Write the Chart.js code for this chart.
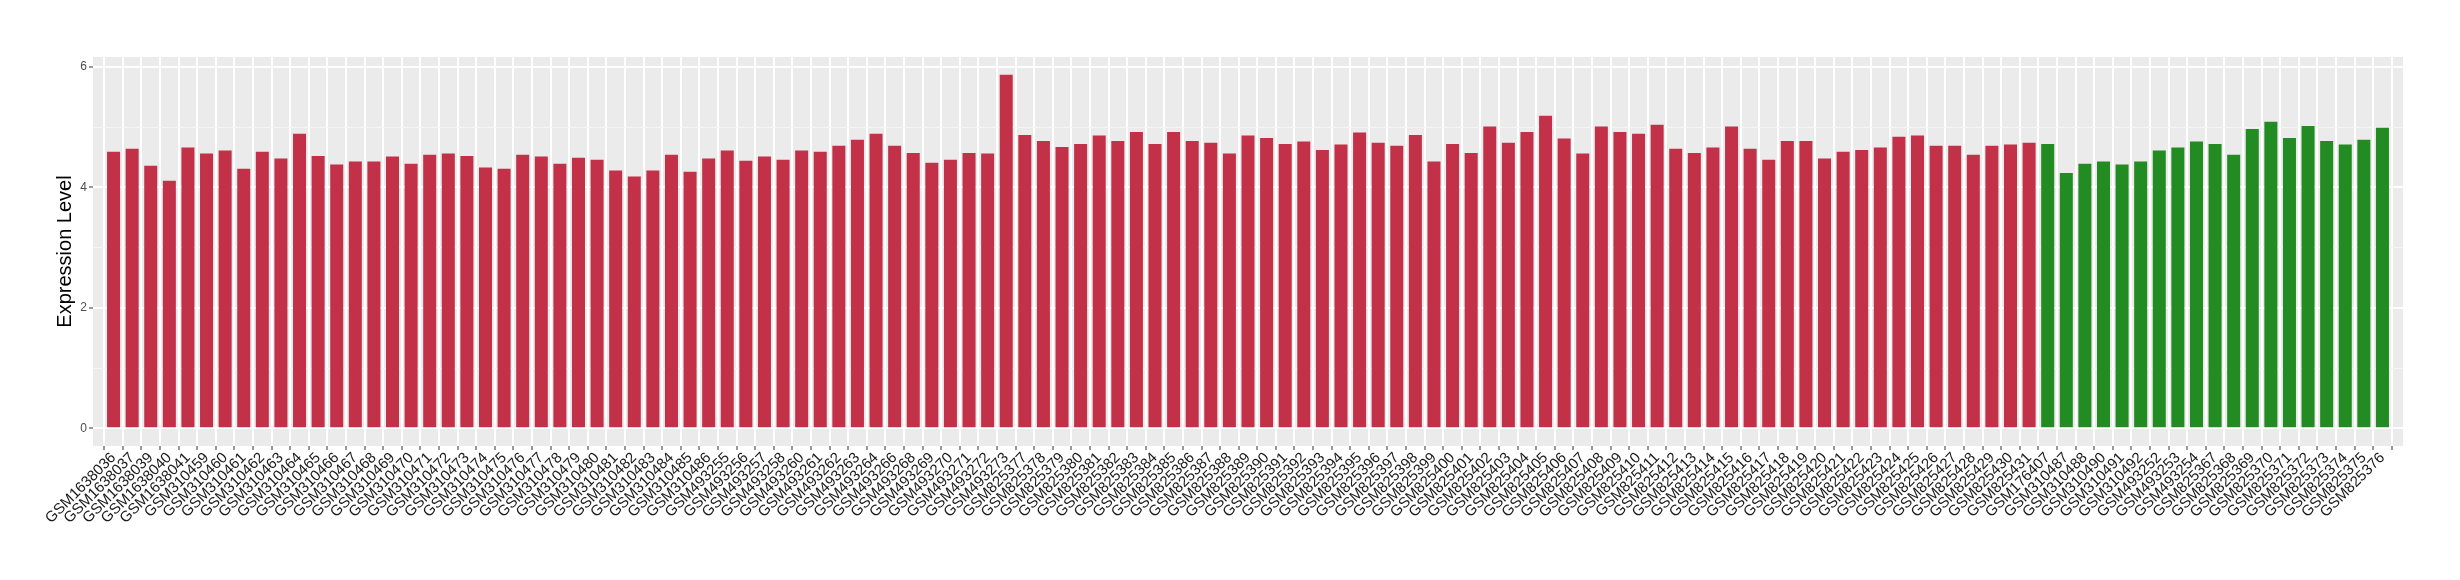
<!DOCTYPE html>
<html>
<head>
<meta charset="utf-8">
<script src="https://cdn.jsdelivr.net/npm/chart.js@4"></script>
<style>
  html, body { margin: 0; padding: 0; background: #fff; }
  #wrap { width: 2460px; height: 580px; }
</style>
</head>
<body>
<div id="wrap"><canvas id="exprChart" width="2460" height="580"></canvas></div>
<script>
// Muestras tumorales (rojo)
const tumorSamples = [
  'GSM1638036', 'GSM1638037', 'GSM1638039', 'GSM1638040', 'GSM1638041',
  'GSM310459', 'GSM310460', 'GSM310461', 'GSM310462', 'GSM310463', 'GSM310464', 'GSM310465',
  'GSM310466', 'GSM310467', 'GSM310468', 'GSM310469', 'GSM310470', 'GSM310471', 'GSM310472',
  'GSM310473', 'GSM310474', 'GSM310475', 'GSM310476', 'GSM310477', 'GSM310478', 'GSM310479',
  'GSM310480', 'GSM310481', 'GSM310482', 'GSM310483', 'GSM310484', 'GSM310485', 'GSM310486',
  'GSM493255', 'GSM493256', 'GSM493257', 'GSM493258', 'GSM493260', 'GSM493261', 'GSM493262',
  'GSM493263', 'GSM493264', 'GSM493266', 'GSM493268', 'GSM493269', 'GSM493270', 'GSM493271',
  'GSM493272', 'GSM493273',
  'GSM825377', 'GSM825378', 'GSM825379', 'GSM825380', 'GSM825381', 'GSM825382', 'GSM825383',
  'GSM825384', 'GSM825385', 'GSM825386', 'GSM825387', 'GSM825388', 'GSM825389', 'GSM825390',
  'GSM825391', 'GSM825392', 'GSM825393', 'GSM825394', 'GSM825395', 'GSM825396', 'GSM825397',
  'GSM825398', 'GSM825399', 'GSM825400', 'GSM825401', 'GSM825402', 'GSM825403', 'GSM825404',
  'GSM825405', 'GSM825406', 'GSM825407', 'GSM825408', 'GSM825409', 'GSM825410', 'GSM825411',
  'GSM825412', 'GSM825413', 'GSM825414', 'GSM825415', 'GSM825416', 'GSM825417', 'GSM825418',
  'GSM825419', 'GSM825420', 'GSM825421', 'GSM825422', 'GSM825423', 'GSM825424', 'GSM825425',
  'GSM825426', 'GSM825427', 'GSM825428', 'GSM825429', 'GSM825430', 'GSM825431'
];
const tumorValues = [
  4.59, 4.64, 4.36, 4.11, 4.66, 4.56, 4.61, 4.31, 4.59, 4.48, 4.89, 4.52, 4.38, 4.43, 4.43,
  4.51, 4.39, 4.54, 4.56, 4.52, 4.33, 4.31, 4.54, 4.51, 4.39, 4.49, 4.46, 4.28, 4.18, 4.28,
  4.54, 4.26, 4.48, 4.61, 4.44, 4.51, 4.46, 4.61, 4.59, 4.69, 4.79, 4.89, 4.69, 4.57, 4.41,
  4.46, 4.57, 4.56, 5.87, 4.87, 4.77, 4.67, 4.72, 4.86, 4.77, 4.92, 4.72, 4.92, 4.77, 4.74,
  4.56, 4.86, 4.82, 4.72, 4.76, 4.62, 4.71, 4.91, 4.74, 4.69, 4.87, 4.43, 4.72, 4.57, 5.01,
  4.74, 4.92, 5.19, 4.81, 4.56, 5.01, 4.92, 4.89, 5.04, 4.64, 4.57, 4.66, 5.01, 4.64, 4.46,
  4.77, 4.77, 4.48, 4.59, 4.62, 4.66, 4.84, 4.86, 4.69, 4.69, 4.54, 4.69, 4.71, 4.74
];

// Muestras normales (verde)
const normalSamples = [
  'GSM176407', 'GSM310487', 'GSM310488', 'GSM310490', 'GSM310491', 'GSM310492',
  'GSM493252', 'GSM493253', 'GSM493254',
  'GSM825367', 'GSM825368', 'GSM825369', 'GSM825370', 'GSM825371', 'GSM825372',
  'GSM825373', 'GSM825374', 'GSM825375', 'GSM825376'
];
const normalValues = [
  4.72, 4.24, 4.39, 4.43, 4.38, 4.43, 4.61, 4.66, 4.76, 4.72,
  4.54, 4.97, 5.09, 4.82, 5.02, 4.77, 4.71, 4.79, 4.99
];

const yTicks = [0, 1, 2, 3, 4, 5, 6];

const allSamples = tumorSamples.concat(normalSamples);
const allValues = tumorValues.concat(normalValues);
const nSamples = allSamples.length;

// Expansión tipo ggplot
const yTop = Math.max(...allValues) * 1.05;
const yBottom = -Math.max(...allValues) * 0.05;

// Fondo gris del panel
const panelBg = {
  id: 'panelBg',
  beforeDraw(chart) {
    const { ctx, chartArea: a } = chart;
    ctx.save();
    ctx.fillStyle = '#EBEBEB';
    ctx.fillRect(a.left, a.top, a.right - a.left, a.bottom - a.top);
    ctx.restore();
  }
};

const ctx = document.getElementById('exprChart').getContext('2d');
const exprChart = new Chart(ctx, {
  type: 'bar',
  data: {
    datasets: [
      {
        label: 'Tumor',
        data: tumorValues.map((v, i) => ({ x: i, y: v })),
        backgroundColor: '#C33149',
        barPercentage: 0.7,
        categoryPercentage: 1.0,
        grouped: false
      },
      {
        label: 'Normal',
        data: normalValues.map((v, i) => ({ x: tumorValues.length + i, y: v })),
        backgroundColor: '#228B22',
        barPercentage: 0.7,
        categoryPercentage: 1.0,
        grouped: false
      }
    ]
  },
  options: {
    responsive: false,
    animation: false,
    layout: { padding: { left: 49, top: 57, right: 57, bottom: 0 } },
    plugins: {
      legend: { display: false },
      tooltip: { enabled: false }
    },
    scales: {
      x: {
        type: 'linear',
        min: -0.6,
        max: nSamples - 1 + 0.6,
        afterBuildTicks: (scale) => {
          scale.ticks = allSamples.map((s, i) => ({ value: i }));
        },
        afterFit: (scale) => {
          scale.height = 134;
          scale.paddingLeft = 0;
          scale.paddingRight = 0;
        },
        border: { display: false },
        grid: {
          color: '#FFFFFF',
          lineWidth: 2,
          tickColor: '#333333',
          tickLength: 4,
          tickWidth: 1
        },
        ticks: {
          autoSkip: false,
          maxRotation: 45,
          minRotation: 45,
          padding: -1,
          color: '#1A1A1A',
          font: { family: 'Liberation Sans', size: 15 },
          callback: (v) => allSamples[v]
        }
      },
      y: {
        min: yBottom,
        max: yTop,
        afterBuildTicks: (scale) => {
          scale.ticks = yTicks.map(v => ({ value: v }));
        },
        afterFit: (scale) => {
          scale.width = 44;
        },
        border: { display: false },
        grid: {
          color: (c) => (c.tick && c.tick.value % 2 === 0) ? '#FFFFFF' : '#F5F5F5',
          lineWidth: (c) => (c.tick && c.tick.value % 2 === 0) ? 2 : 1,
          tickColor: (c) => (c.tick && c.tick.value % 2 === 0) ? '#333333' : 'rgba(0,0,0,0)',
          tickLength: 4,
          tickWidth: 1
        },
        ticks: {
          padding: 2,
          color: '#4D4D4D',
          font: { family: 'Liberation Sans', size: 12 },
          callback: (v) => (v % 2 === 0 ? String(v) : '')
        },
        title: {
          display: true,
          text: 'Expression Level',
          color: '#000000',
          font: { family: 'Liberation Sans', size: 20 },
          padding: { top: 4, bottom: 4 }
        }
      }
    }
  },
  plugins: [panelBg]
});
</script>
</body>
</html>
